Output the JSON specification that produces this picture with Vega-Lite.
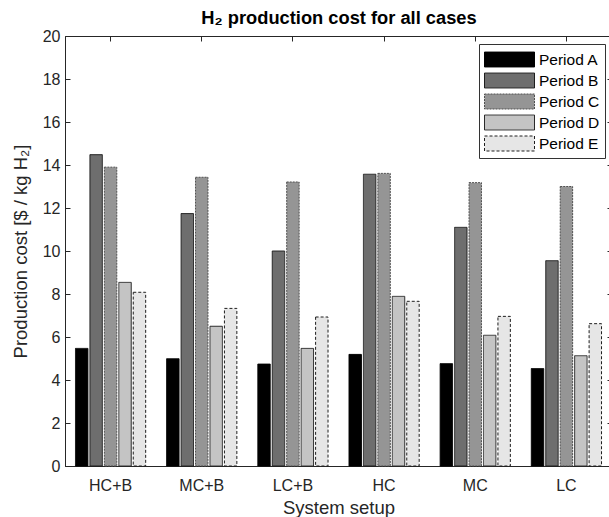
{
  "$schema": "https://vega.github.io/schema/vega-lite/v6.json",
  "width": 547,
  "height": 430,
  "autosize": {"type": "none"},
  "padding": {"left": 65, "top": 36, "right": 0, "bottom": 51},
  "background": "white",
  "config": {
    "view": {"stroke": "#262626", "strokeWidth": 1},
    "font": "Liberation Sans",
    "axis": {
      "domainColor": "#262626",
      "tickColor": "#262626",
      "labelColor": "#262626",
      "titleColor": "#262626",
      "grid": false,
      "labelFontSize": 16,
      "titleFontSize": 18.5,
      "titleFontWeight": "normal",
      "labelFont": "Liberation Sans",
      "titleFont": "Liberation Sans"
    }
  },
  "data": {
    "values": [
      {"setup": "HC+B", "period": "Period A", "cost": 5.47},
      {"setup": "HC+B", "period": "Period B", "cost": 14.48},
      {"setup": "HC+B", "period": "Period C", "cost": 13.9},
      {"setup": "HC+B", "period": "Period D", "cost": 8.54},
      {"setup": "HC+B", "period": "Period E", "cost": 8.08},
      {"setup": "MC+B", "period": "Period A", "cost": 4.99},
      {"setup": "MC+B", "period": "Period B", "cost": 11.74},
      {"setup": "MC+B", "period": "Period C", "cost": 13.43},
      {"setup": "MC+B", "period": "Period D", "cost": 6.5},
      {"setup": "MC+B", "period": "Period E", "cost": 7.33},
      {"setup": "LC+B", "period": "Period A", "cost": 4.74},
      {"setup": "LC+B", "period": "Period B", "cost": 10.0},
      {"setup": "LC+B", "period": "Period C", "cost": 13.21},
      {"setup": "LC+B", "period": "Period D", "cost": 5.47},
      {"setup": "LC+B", "period": "Period E", "cost": 6.93},
      {"setup": "HC", "period": "Period A", "cost": 5.19},
      {"setup": "HC", "period": "Period B", "cost": 13.57},
      {"setup": "HC", "period": "Period C", "cost": 13.61},
      {"setup": "HC", "period": "Period D", "cost": 7.89},
      {"setup": "HC", "period": "Period E", "cost": 7.66},
      {"setup": "MC", "period": "Period A", "cost": 4.76},
      {"setup": "MC", "period": "Period B", "cost": 11.1},
      {"setup": "MC", "period": "Period C", "cost": 13.18},
      {"setup": "MC", "period": "Period D", "cost": 6.08},
      {"setup": "MC", "period": "Period E", "cost": 6.96},
      {"setup": "LC", "period": "Period A", "cost": 4.53},
      {"setup": "LC", "period": "Period B", "cost": 9.55},
      {"setup": "LC", "period": "Period C", "cost": 13.0},
      {"setup": "LC", "period": "Period D", "cost": 5.13},
      {"setup": "LC", "period": "Period E", "cost": 6.62}
    ]
  },
  "layer": [
    {
      "mark": {"type": "bar", "strokeWidth": 1},
      "encoding": {
        "x": {
          "field": "setup",
          "type": "nominal",
          "sort": ["HC+B", "MC+B", "LC+B", "HC", "MC", "LC"],
          "scale": {"paddingInner": 0.23, "paddingOuter": 0.115},
          "axis": {
            "title": "System setup",
            "labelAngle": 0,
            "tickSize": -5,
            "bandPosition": 0.5,
            "labelPadding": 16,
            "titlePadding": 5,
            "domain": true
          }
        },
        "xOffset": {
          "field": "period",
          "type": "nominal",
          "scale": {"paddingInner": 0.14, "paddingOuter": 0}
        },
        "y": {
          "field": "cost",
          "type": "quantitative",
          "scale": {"domain": [0, 20], "nice": false},
          "axis": {
            "values": [0, 2, 4, 6, 8, 10, 12, 14, 16, 18, 20],
            "title": "Production cost [$ / kg H₂]",
            "tickSize": -5,
            "labelPadding": 10,
            "titlePadding": 12
          }
        },
        "fill": {
          "field": "period",
          "type": "nominal",
          "scale": {"range": ["#000000", "#6e6e6e", "#959595", "#c4c4c4", "#e6e6e6"]},
          "legend": {
            "orient": "none",
            "legendX": 414,
            "legendY": 8,
            "title": null,
            "symbolType": "M-1,-0.75H4V0.75H-1Z",
            "symbolSize": 400,
            "symbolStrokeWidth": 1,
            "labelFontSize": 15.5,
            "labelFont": "Liberation Sans",
            "labelColor": "#000000",
            "labelOffset": 34,
            "rowPadding": 1,
            "padding": 5,
            "strokeColor": "#333333",
            "fillColor": "white"
          }
        },
        "stroke": {
          "field": "period",
          "type": "nominal",
          "scale": {"range": ["#000000", "#1e1e1e", "#505050", "#2a2a2a", "#1e1e1e"]}
        },
        "strokeDash": {
          "field": "period",
          "type": "nominal",
          "scale": {"range": [[1, 0], [1, 0], [2, 1], [1, 0], [3, 2]]}
        }
      }
    },
    {
      "mark": {"type": "bar", "opacity": 0},
      "encoding": {
        "x": {
          "field": "setup",
          "type": "nominal",
          "sort": ["HC+B", "MC+B", "LC+B", "HC", "MC", "LC"],
          "axis": {
            "orient": "top",
            "labels": false,
            "title": "H₂ production cost for all cases",
            "titleFontSize": 18.3,
            "titleFontWeight": "bold",
            "titleColor": "#000000",
            "titlePadding": 9,
            "tickSize": -5,
            "bandPosition": 0.5,
            "domain": false,
            "minExtent": 0,
            "maxExtent": 0
          }
        },
        "y": {
          "field": "cost",
          "type": "quantitative",
          "axis": {"orient": "right", "values": [0, 2, 4, 6, 8, 10, 12, 14, 16, 18, 20], "labels": false, "title": null, "tickSize": -5, "domain": false, "minExtent": 0, "maxExtent": 0}
        }
      }
    }
  ],
  "resolve": {"axis": {"x": "independent", "y": "independent"}}
}
